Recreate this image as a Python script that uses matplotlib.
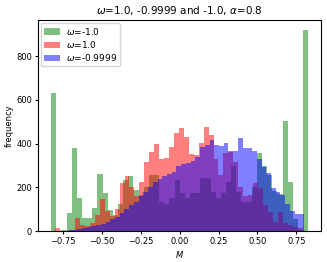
import matplotlib
matplotlib.use('Agg')
import matplotlib.pyplot as plt
import numpy as np

# bin ranges (50 bins each)
green_range = (-0.827, 0.827)
red_range = (-0.80, 0.79)
blue_range = (-0.72, 0.80)

# counts per bin, left to right
green_counts = [633, 0, 7, 84, 381, 150, 58, 60, 107, 259,
                172, 96, 73, 123, 234, 250, 190, 165, 200, 256,
                256, 134, 126, 150, 233, 172, 152, 172, 172, 241,
                241, 180, 152, 172, 225, 299, 180, 131, 131, 200,
                356, 300, 255, 185, 170, 503, 223, 55, 5, 920]
red_counts = [12, 0, 0, 3, 58, 30, 25, 35, 73, 145,
              90, 70, 100, 220, 250, 200, 160, 226, 317, 360,
              400, 330, 333, 386, 447, 473, 432, 352, 348, 404,
              474, 439, 332, 257, 359, 360, 318, 203, 162, 165,
              218, 195, 119, 86, 43, 86, 36, 30, 20, 15]
blue_counts = [4, 6, 9, 12, 17, 21, 27, 33, 40, 55,
               66, 84, 100, 120, 135, 160, 180, 200, 225, 238,
               250, 260, 270, 297, 305, 312, 320, 340, 386, 396,
               416, 394, 391, 401, 365, 366, 427, 378, 380, 365,
               330, 294, 264, 198, 180, 165, 126, 90, 76, 76]

fig = plt.figure(figsize=(3.27, 2.62), dpi=100)
ax = fig.add_axes([0.117, 0.118, 0.865, 0.806])

series = [(green_range, green_counts, 'g', r'$\omega$=-1.0'),
          (red_range, red_counts, 'r', r'$\omega$=1.0'),
          (blue_range, blue_counts, 'b', r'$\omega$=-0.9999')]
for rng, counts, col, lab in series:
    edges = np.linspace(rng[0], rng[1], len(counts) + 1)
    centres = (edges[:-1] + edges[1:]) / 2
    ax.hist(centres, bins=edges, weights=counts, color=col, alpha=0.5, label=lab)

ax.set_title(r'$\omega$=1.0, -0.9999 and -1.0, $\alpha$=0.8', fontsize=7.5, pad=4)
ax.set_xlabel(r'$M$', fontsize=6, labelpad=2)
ax.set_ylabel('frequency', fontsize=6, labelpad=2)
ax.tick_params(labelsize=6, length=2.5, pad=2)
ax.legend(loc='upper left', fontsize=6.5, labelspacing=0.25, handlelength=1.8,
          borderaxespad=0.3, borderpad=0.35, handletextpad=0.6)

fig.savefig('out.png', dpi=100)
